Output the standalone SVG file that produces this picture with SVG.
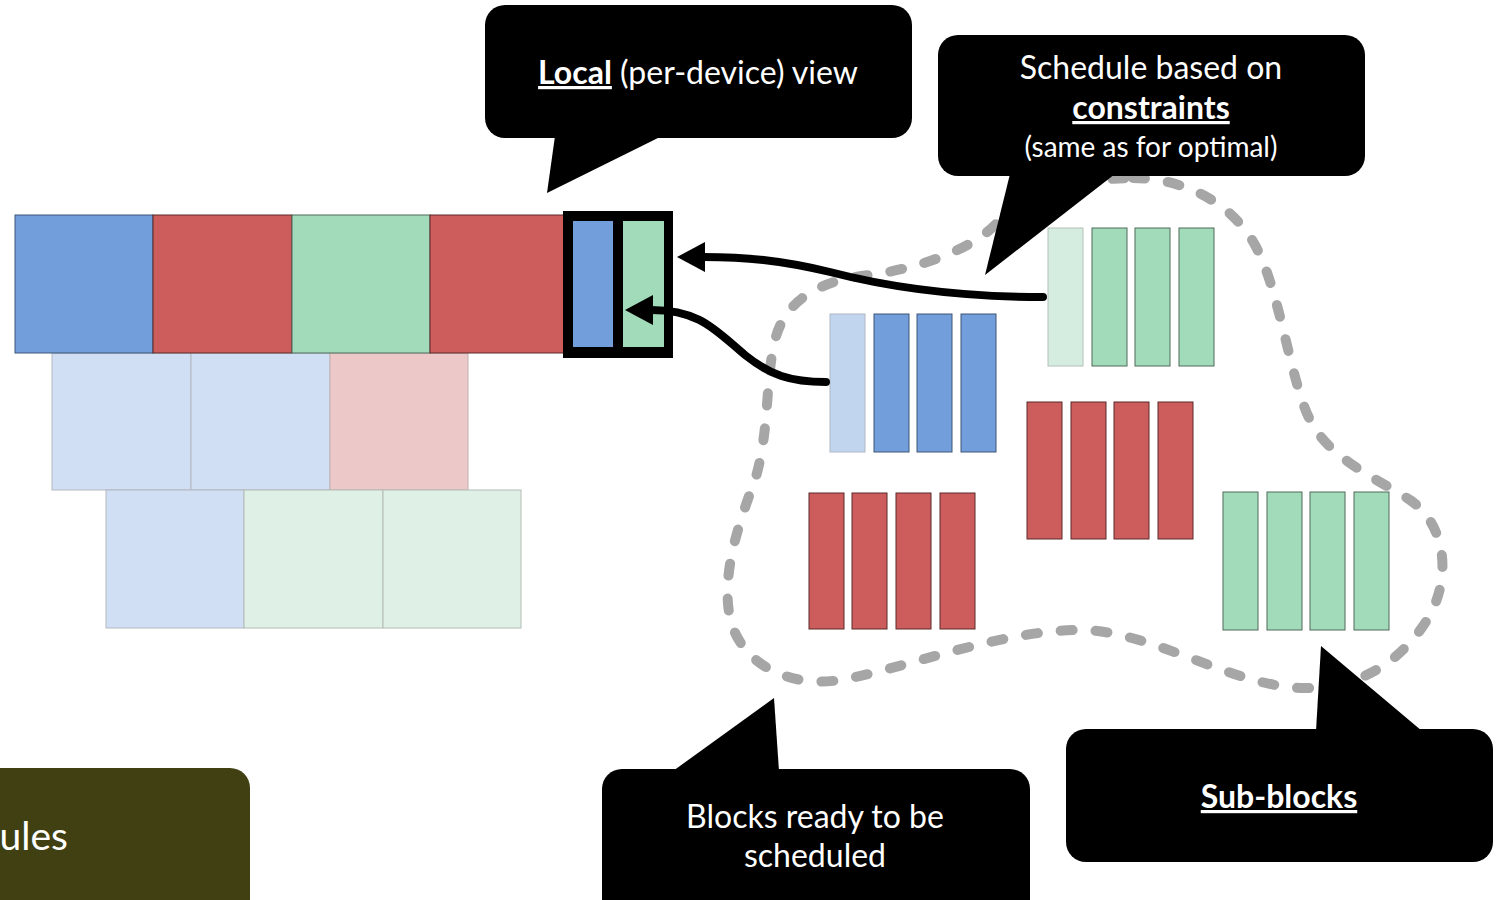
<svg xmlns="http://www.w3.org/2000/svg" width="1504" height="900" viewBox="0 0 1504 900">
  <style>
    .blue { fill: #729fdb; stroke: #3f5575; stroke-width: 1; }
    .red { fill: #cd5c5c; stroke: #5a2a2a; stroke-width: 1; }
    .green { fill: #a2dbba; stroke: #4f6b5b; stroke-width: 1; }
    .blue-lt { fill: #d0dff4; stroke: #b4b8c0; stroke-width: 1; }
    .red-lt { fill: #ecc8c9; stroke: #c4b0b0; stroke-width: 1; }
    .green-lt { fill: #dff1e6; stroke: #b4bcb6; stroke-width: 1; }
    .sub-blue-lt { fill: #c1d5ee; stroke: #b0b8c4; stroke-width: 1; }
    .sub-green-lt { fill: #d4ede0; stroke: #b4c0b8; stroke-width: 1; }
    .callout { fill: #000000; }
    .label { font-family: Lato, "Open Sans", sans-serif; fill: #ffffff; font-size: 32px; text-anchor: middle; }
    .strong { font-weight: bold; text-decoration: underline; }
    .small { font-size: 28px; }
    .boundary { fill: none; stroke: #a6a6a6; stroke-width: 10; stroke-linecap: round; stroke-dasharray: 12 23; }
    .link { fill: none; stroke: #000000; stroke-width: 8; stroke-linecap: round; }
  </style>
  <defs>
    <marker id="head" markerUnits="userSpaceOnUse" markerWidth="30" markerHeight="32" refX="2" refY="15" orient="auto">
      <path d="M0,0 L28,15 L0,30 Z" fill="#000000"/>
    </marker>
  </defs>

  <rect width="1504" height="900" fill="#ffffff"/>

  <!-- timeline: current device row plus faded rows of other devices -->
  <g id="timeline">
    <rect class="blue-lt" x="52" y="353" width="139" height="137"/>
    <rect class="blue-lt" x="191" y="353" width="139" height="137"/>
    <rect class="red-lt" x="330" y="353" width="138" height="137"/>
    <rect class="blue-lt" x="106" y="490" width="138" height="138"/>
    <rect class="green-lt" x="244" y="490" width="139" height="138"/>
    <rect class="green-lt" x="383" y="490" width="138" height="138"/>
    <rect class="blue" x="15" y="215" width="138" height="138"/>
    <rect class="red" x="153" y="215" width="139" height="138"/>
    <rect class="green" x="292" y="215" width="138" height="138"/>
    <rect class="red" x="430" y="215" width="137" height="138"/>
  </g>

  <!-- highlighted local slot -->
  <g id="local-slot">
    <rect x="563" y="211" width="110" height="147" fill="#000000"/>
    <rect x="573" y="221" width="40" height="126" fill="#729fdb"/>
    <rect x="623" y="221" width="41" height="126" fill="#a2dbba"/>
  </g>

  <!-- dashed boundary around the ready blocks -->
  <path id="ready-pool" class="boundary" d="M1133,178 C1180,178 1230,200 1255,245 C1280,290 1290,380 1310,420 C1330,460 1380,480 1410,500 C1447,525 1452,580 1427,620 C1402,660 1360,690 1300,688 C1230,685 1150,630 1080,630 C1000,630 900,670 840,680 C790,688 745,665 732,625 C718,580 740,520 755,480 C770,430 765,380 775,340 C785,300 820,280 870,275 C920,268 970,250 995,225 C1020,195 1080,178 1133,178 Z"/>

  <g id="blocks-blue">
    <rect class="sub-blue-lt" x="830" y="314" width="35" height="138"/>
    <rect class="blue" x="874" y="314" width="35" height="138"/>
    <rect class="blue" x="917" y="314" width="35" height="138"/>
    <rect class="blue" x="961" y="314" width="35" height="138"/>
  </g>
  <g id="blocks-green-top">
    <rect class="sub-green-lt" x="1048" y="228" width="35" height="138"/>
    <rect class="green" x="1092" y="228" width="35" height="138"/>
    <rect class="green" x="1135" y="228" width="35" height="138"/>
    <rect class="green" x="1179" y="228" width="35" height="138"/>
  </g>
  <g id="blocks-red-mid">
    <rect class="red" x="1027" y="402" width="35" height="137"/>
    <rect class="red" x="1071" y="402" width="35" height="137"/>
    <rect class="red" x="1114" y="402" width="35" height="137"/>
    <rect class="red" x="1158" y="402" width="35" height="137"/>
  </g>
  <g id="blocks-red-low">
    <rect class="red" x="809" y="493" width="35" height="136"/>
    <rect class="red" x="852" y="493" width="35" height="136"/>
    <rect class="red" x="896" y="493" width="35" height="136"/>
    <rect class="red" x="940" y="493" width="35" height="136"/>
  </g>
  <g id="blocks-green-low">
    <rect class="green" x="1223" y="492" width="35" height="138"/>
    <rect class="green" x="1267" y="492" width="35" height="138"/>
    <rect class="green" x="1310" y="492" width="35" height="138"/>
    <rect class="green" x="1354" y="492" width="35" height="138"/>
  </g>

  <!-- connectors -->
  <g id="connectors">
    <path class="link" d="M1043,297 C950,297 880,285 830,272 C780,260 745,257 703,257" marker-end="url(#head)"/>
    <path class="link" d="M826,382 C790,382 770,375 745,355 C715,330 700,310 651,310" marker-end="url(#head)"/>
  </g>

  <!-- callouts -->
  <g id="callout-local">
    <rect class="callout" x="485" y="5" width="427" height="133" rx="20"/>
    <polygon class="callout" points="555,136 662,136 547,193"/>
    <text class="label" x="698" y="84"><tspan class="strong">Local</tspan> (per-device) view</text>
  </g>

  <g id="callout-constraints">
    <rect class="callout" x="938" y="35" width="427" height="141" rx="20"/>
    <polygon class="callout" points="1010,174 1115,174 985,275"/>
    <text class="label" x="1151" y="79">Schedule based on</text>
    <text class="label strong" x="1151" y="119">constraints</text>
    <text class="label small" x="1151" y="157">(same as for optimal)</text>
  </g>

  <g id="callout-ready">
    <rect class="callout" x="602" y="769" width="428" height="150" rx="20"/>
    <polygon class="callout" points="673,771 774,698 779,771"/>
    <text class="label" x="815" y="828">Blocks ready to be</text>
    <text class="label" x="815" y="867">scheduled</text>
  </g>

  <g id="callout-subblocks">
    <rect class="callout" x="1066" y="729" width="427" height="133" rx="20"/>
    <polygon class="callout" points="1316,731 1321,646 1422,731"/>
    <text class="label strong" x="1279" y="808" font-size="31">Sub-blocks</text>
  </g>

  <g id="schedules-box">
    <rect x="-40" y="768" width="290" height="170" rx="20" fill="#404012"/>
    <text x="68" y="850" font-family="Lato, 'Open Sans', sans-serif" font-size="39" fill="#ffffff" text-anchor="end">ules</text>
  </g>
</svg>
